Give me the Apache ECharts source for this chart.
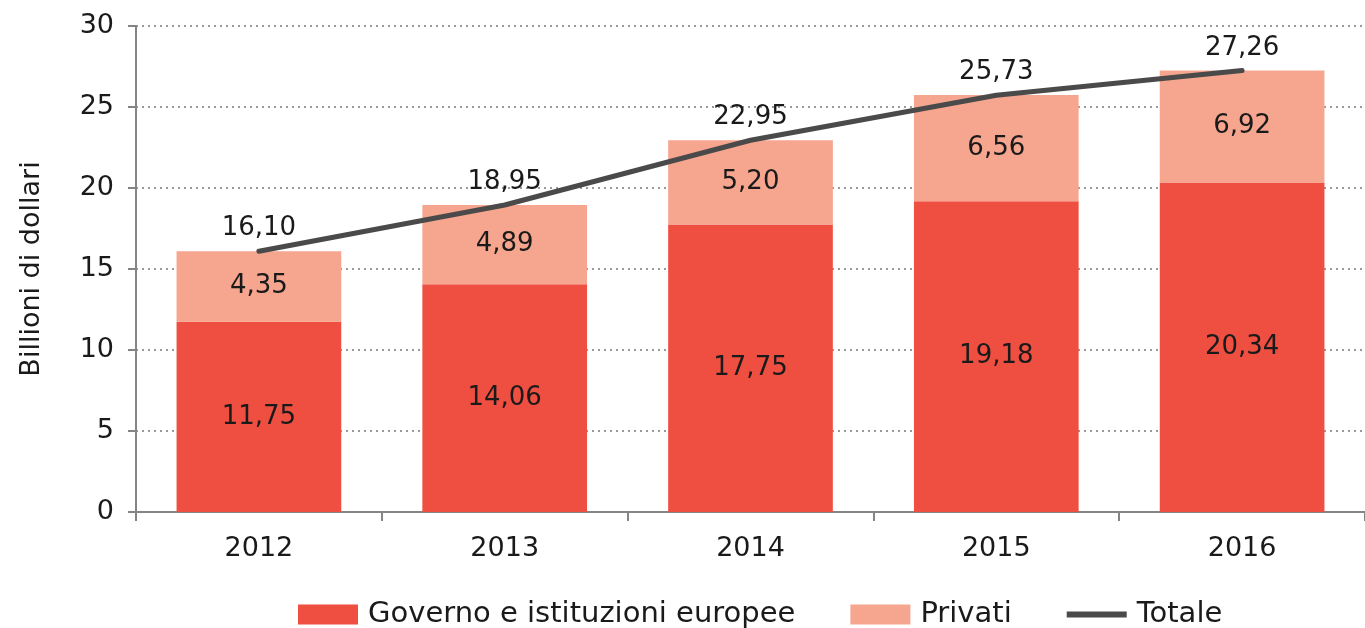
<!DOCTYPE html>
<html>
<head>
<meta charset="utf-8">
<script src="https://cdn.jsdelivr.net/npm/echarts@6/dist/echarts.min.js"></script>
<style>
html, body { margin: 0; padding: 0; background: #fff; }
#chart { width: 1365px; height: 628px; }
</style>
</head>
<body>
<div id="chart"></div>
<script>
// dati
var anni = ['2012', '2013', '2014', '2015', '2016'];
var governo = [11.75, 14.06, 17.75, 19.18, 20.34];
var privati = [4.35, 4.89, 5.20, 6.56, 6.92];
var totale = [16.10, 18.95, 22.95, 25.73, 27.26];

var font = '"DejaVu Sans", sans-serif';
var nero = '#1a1a1a';
var grigio = '#858585';
function virgola(p) { return p.value.toFixed(2).replace('.', ','); }

var myChart = echarts.init(document.getElementById('chart'));
var option = {
    animation: false,
    textStyle: { fontFamily: font },
    grid: { left: 136, top: 26, right: -5, bottom: 116 },
    legend: {
        top: 595,
        left: 293,
        itemWidth: 60,
        itemHeight: 20,
        itemGap: 55,
        textStyle: { fontSize: 29, color: nero, fontFamily: font, padding: [0, 0, 0, 5] },
        data: [
            { name: 'Governo e istituzioni europee', icon: 'rect' },
            { name: 'Privati', icon: 'rect' },
            { name: 'Totale', icon: 'path://M0,0L1,0M0,7L60,7L60,13L0,13ZM0,20L1,20' }
        ]
    },
    xAxis: {
        type: 'category',
        data: anni,
        axisLine: { lineStyle: { color: grigio, width: 2 } },
        axisTick: { show: true, length: 9, lineStyle: { color: grigio, width: 2 } },
        axisLabel: { fontSize: 27, color: nero, margin: 23 }
    },
    yAxis: {
        type: 'value',
        min: 0,
        max: 30,
        interval: 5,
        name: 'Billioni di dollari',
        nameLocation: 'middle',
        nameRotate: 90,
        nameGap: 91,
        nameTextStyle: { fontSize: 27, color: nero },
        axisLine: { show: true, lineStyle: { color: grigio, width: 2 } },
        axisTick: { show: true, length: 8, lineStyle: { color: grigio, width: 2 } },
        axisLabel: { fontSize: 27, color: nero, margin: 22 },
        splitLine: { lineStyle: { type: [2, 4], color: '#999', width: 2 } }
    },
    series: [
        {
            name: 'Governo e istituzioni europee',
            type: 'bar',
            stack: 'tot',
            barWidth: '67%',
            itemStyle: { color: '#ef4f41' },
            label: { show: true, position: 'inside', fontSize: 26, color: nero, formatter: virgola },
            data: governo
        },
        {
            name: 'Privati',
            type: 'bar',
            stack: 'tot',
            itemStyle: { color: '#f6a58e' },
            label: { show: true, position: 'inside', fontSize: 26, color: nero, formatter: virgola },
            data: privati
        },
        {
            name: 'Totale',
            type: 'line',
            symbol: 'circle',
            symbolSize: 1,
            lineStyle: { color: '#4a4a4a', width: 5, cap: 'round' },
            itemStyle: { color: '#4a4a4a' },
            label: { show: true, position: 'top', distance: 9, fontSize: 26, color: nero, formatter: virgola },
            data: totale
        }
    ]
};
myChart.setOption(option);
</script>
</body>
</html>
